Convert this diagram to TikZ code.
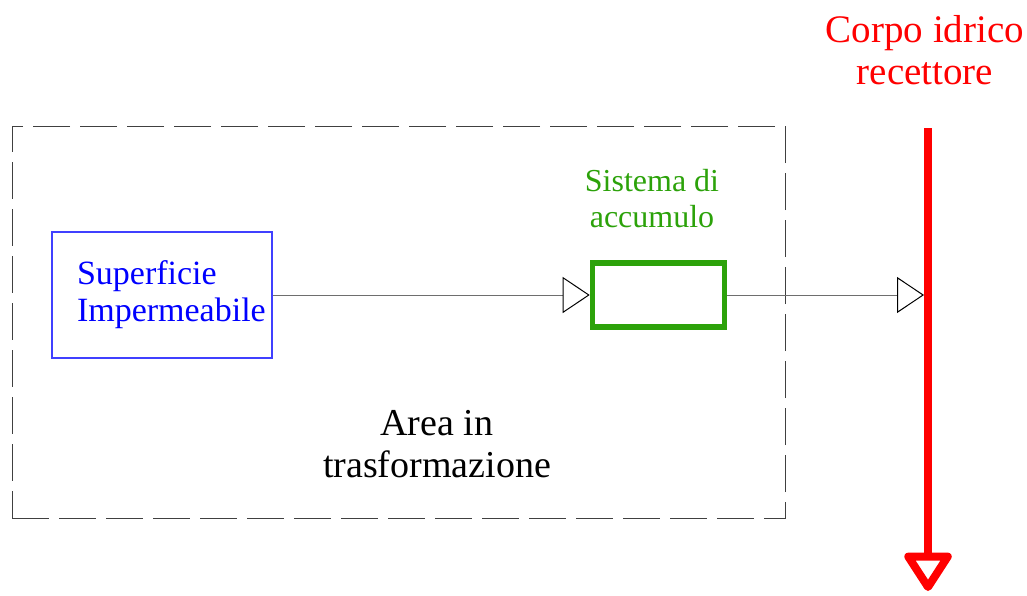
\documentclass[tikz,border=0pt]{standalone}
\usepackage{fontspec}
\setmainfont{Liberation Serif}
\usepackage{tikz}
\usetikzlibrary{arrows.meta,positioning}
\definecolor{accgreen}{RGB}{44,162,10}
\definecolor{supblue}{RGB}{0,0,255}
\definecolor{linegray}{RGB}{110,110,110}
\tikzstyle{line}=[line width=0.5pt, draw=linegray]
\tikzstyle{flow}=[line,-{Triangle[open,length=13.5pt,width=18pt,color=black,line width=0.5pt]}]
\tikzstyle{supbox}=[draw=supblue!75, line width=0.6pt, text=supblue, minimum width=110pt, minimum height=63pt, align=left, text width=85pt, font=\fontsize{17}{18.5}\selectfont]
\tikzstyle{accbox}=[draw=accgreen, line width=2.8pt, minimum width=66pt, minimum height=32pt]
\tikzstyle{acclabel}=[text=accgreen, align=center, font=\fontsize{16}{18}\selectfont]
\tikzstyle{areabox}=[draw=black!75, line width=0.5pt, dash pattern=on 18.5pt off 5pt, minimum width=386.5pt, minimum height=196pt]
\tikzstyle{arealabel}=[align=center, font=\fontsize{19}{21}\selectfont]
\tikzstyle{reclabel}=[text=red, align=center, font=\fontsize{19.5}{21}\selectfont]
\tikzstyle{recline}=[red, line width=4pt, -{Triangle[open,round,length=21pt,width=26pt]}]

\begin{document}
\begin{tikzpicture}[x=0.5pt,y=-0.5pt]
  \useasboundingbox (0,0) rectangle (1027,595);
  \node[areabox] (Area) at (398.5,322) {};
  \node[arealabel] (AreaLbl) at (437,444) {Area in\\trasformazione};
  \node[supbox] (Sup) at (162,295) {Superficie\\Impermeabile};
  \node[accbox] (Acc) at (658.5,295) {};
  \node[acclabel] (AccLbl) at (652,199) {Sistema di\\accumulo};
  \node[reclabel] (Corpo) at (925,50) {Corpo idrico\\recettore};
  \coordinate (Rec-Top) at (928,128);
  \coordinate (Rec-Bot) at (928,591);
  \draw[recline] (Rec-Top) -- (Rec-Bot);
  \draw[flow] (Sup.east) -- (Acc.west);
  \draw[flow, shorten >=2pt] (Acc.east) -- (Acc.east -| Rec-Top);
\end{tikzpicture}
\end{document}
